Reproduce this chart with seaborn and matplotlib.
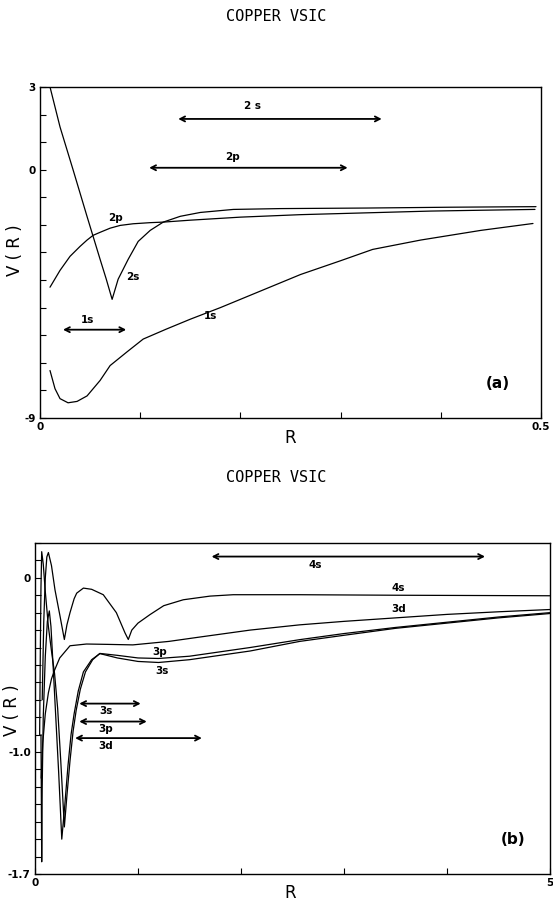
import numpy as np
import matplotlib
matplotlib.use("Agg")
import matplotlib.pyplot as plt
import seaborn as sns

# ---- panel (a): values ----
r_2s = [0.010, 0.020, 0.033, 0.047, 0.060, 0.066, 0.072, 0.078, 0.088, 0.098,
        0.110, 0.123, 0.140, 0.160, 0.193, 0.240, 0.326, 0.410, 0.495]
v_2s = [3.0, 1.55, 0.0, -1.7, -3.25, -3.95, -4.7, -3.97, -3.25, -2.6,
        -2.2, -1.9, -1.69, -1.55, -1.44, -1.41, -1.39, -1.36, -1.34]

r_2p = [0.010, 0.020, 0.030, 0.040, 0.047, 0.053, 0.060, 0.070, 0.080, 0.093,
        0.110, 0.123, 0.150, 0.200, 0.260, 0.330, 0.390, 0.440, 0.494]
v_2p = [-4.26, -3.65, -3.14, -2.78, -2.55, -2.38, -2.27, -2.12, -2.02, -1.96,
        -1.92, -1.9, -1.83, -1.72, -1.63, -1.56, -1.5, -1.47, -1.44]

r_1s = [0.010, 0.015, 0.020, 0.028, 0.037, 0.047, 0.060, 0.070, 0.087, 0.103,
        0.126, 0.150, 0.180, 0.210, 0.260, 0.300, 0.332, 0.380, 0.440, 0.492]
v_1s = [-7.28, -7.94, -8.3, -8.45, -8.4, -8.2, -7.64, -7.1, -6.6, -6.14,
        -5.78, -5.42, -5.0, -4.55, -3.8, -3.3, -2.89, -2.55, -2.2, -1.95]

# orbital extent arrows: (label, r_from, r_to, v)
arrows_a = [("2 s", 0.138, 0.341, 1.84), ("2p", 0.109, 0.307, 0.07), ("1s", 0.023, 0.086, -5.8)]

# ---- panel (b) ----
r_4s = [0.070, 0.085, 0.100, 0.115, 0.130, 0.160, 0.194, 0.243, 0.285, 0.310,
        0.340, 0.380, 0.405, 0.470, 0.550, 0.663, 0.790, 0.874, 0.906, 0.940,
        1.000, 1.117, 1.250, 1.440, 1.700, 1.925, 2.570, 3.500, 5.000]
v_4s = [-0.7, -0.25, 0.0, 0.12, 0.145, 0.07, -0.069, -0.22, -0.354, -0.27,
        -0.2, -0.12, -0.088, -0.059, -0.066, -0.097, -0.2, -0.316, -0.354, -0.3,
        -0.26, -0.211, -0.16, -0.126, -0.105, -0.097, -0.097, -0.1, -0.103]

r_3d = [0.060, 0.075, 0.100, 0.130, 0.160, 0.190, 0.240, 0.340, 0.500, 0.700,
        0.950, 1.300, 1.600, 2.090, 2.570, 3.000, 3.500, 4.000, 4.500, 5.000]
v_3d = [-1.15, -0.95, -0.78, -0.66, -0.58, -0.53, -0.46, -0.39, -0.38, -0.382,
        -0.385, -0.365, -0.34, -0.30, -0.27, -0.25, -0.23, -0.21, -0.195, -0.182]

r_3p = [0.045, 0.052, 0.058, 0.065, 0.080, 0.100, 0.130, 0.160, 0.190, 0.220,
        0.250, 0.285, 0.310, 0.340, 0.370, 0.400, 0.440, 0.490, 0.560, 0.630,
        0.800, 1.000, 1.200, 1.500, 2.090, 2.570, 3.000, 3.500, 4.000, 4.500, 5.000]
v_3p = [-0.9, -0.4, -0.05, 0.15, 0.08, -0.08, -0.28, -0.42, -0.55, -0.75,
        -1.05, -1.43, -1.25, -1.05, -0.88, -0.76, -0.64, -0.54, -0.47, -0.434,
        -0.445, -0.46, -0.463, -0.45, -0.40, -0.355, -0.32, -0.285, -0.255, -0.225, -0.2]

r_3s = [0.058, 0.062, 0.065, 0.070, 0.080, 0.100, 0.120, 0.139, 0.155, 0.178,
        0.200, 0.230, 0.260, 0.290, 0.320, 0.350, 0.380, 0.420, 0.470, 0.550,
        0.630, 0.800, 1.000, 1.200, 1.500, 2.090, 2.570, 3.000, 3.500, 4.000, 4.500, 5.000]
v_3s = [-0.9, -1.3, -1.63, -1.2, -0.8, -0.45, -0.25, -0.19, -0.28, -0.53,
        -0.78, -1.12, -1.5, -1.3, -1.08, -0.9, -0.78, -0.65, -0.54, -0.47,
        -0.435, -0.46, -0.48, -0.486, -0.47, -0.42, -0.365, -0.33, -0.29, -0.26, -0.23, -0.205]

arrows_b = [("4s", 1.715, 4.37, 0.122), ("3s", 0.43, 1.026, -0.722),
            ("3p", 0.43, 1.085, -0.825), ("3d", 0.39, 1.62, -0.92)]

sns.set_style("white")
plt.rcParams["font.family"] = ["DejaVu Sans"]
plt.rcParams["axes.unicode_minus"] = False
plt.rcParams["text.color"] = "black"

fig = plt.figure(figsize=(5.53, 9.0), dpi=100)
ax1 = fig.add_axes([0.0723, 0.5356, 0.906, 0.3678])
ax2 = fig.add_axes([0.0633, 0.0289, 0.931, 0.3678])


def curve(ax, r, v):
    sns.lineplot(x=r, y=v, ax=ax, color="black", lw=0.9, sort=False, estimator=None)


def span(ax, r0, r1, v):
    ax.annotate("", xy=(r0, v), xytext=(r1, v),
                arrowprops=dict(arrowstyle="<->,head_length=0.35,head_width=0.18",
                                color="black", lw=1.3, shrinkA=0, shrinkB=0))


def frame(ax):
    for s in ax.spines.values():
        s.set_color("black")
        s.set_linewidth(1.0)
    ax.tick_params(direction="in", length=4, width=0.8, colors="black",
                   bottom=True, left=True, labelsize=7.5, pad=3)
    for t in ax.get_xticklabels() + ax.get_yticklabels():
        t.set_fontweight("bold")


def lab(ax, x, y, s, size=7.5):
    ax.text(x, y, s, fontsize=size, fontweight="bold", color="black",
            ha="center", va="center")


# panel (a)
for r, v in [(r_2s, v_2s), (r_2p, v_2p), (r_1s, v_1s)]:
    curve(ax1, r, v)
for name, r0, r1, v in arrows_a:
    span(ax1, r0, r1, v)
lab(ax1, 0.212, 2.3, "2 s")
lab(ax1, 0.192, 0.45, "2p")
lab(ax1, 0.047, -5.45, "1s")
lab(ax1, 0.075, -1.75, "2p")
lab(ax1, 0.093, -3.9, "2s")
lab(ax1, 0.170, -5.3, "1s")
lab(ax1, 0.457, -7.76, "(a)", 11)
ax1.set_xlim(0, 0.5)
ax1.set_ylim(-9, 3)
ax1.set_xticks(np.arange(0, 0.51, 0.1))
ax1.set_xticklabels(["0", "", "", "", "", "0.5"])
ax1.set_yticks(np.arange(-9, 4, 1))
ax1.set_yticklabels(["-9"] + [""] * 8 + ["0", "", "", "3"])
ax1.set_xlabel("")
ax1.set_ylabel("")
frame(ax1)

# panel (b)
for r, v in [(r_4s, v_4s), (r_3d, v_3d), (r_3p, v_3p), (r_3s, v_3s)]:
    curve(ax2, r, v)
for name, r0, r1, v in arrows_b:
    span(ax2, r0, r1, v)
lab(ax2, 2.72, 0.075, "4s")
lab(ax2, 0.69, -0.765, "3s")
lab(ax2, 0.69, -0.865, "3p")
lab(ax2, 0.69, -0.965, "3d")
lab(ax2, 3.53, -0.057, "4s")
lab(ax2, 3.53, -0.18, "3d")
lab(ax2, 1.21, -0.427, "3p")
lab(ax2, 1.23, -0.535, "3s")
lab(ax2, 4.64, -1.5, "(b)", 11)
ax2.set_xlim(0, 5)
ax2.set_ylim(-1.7, 0.2)
ax2.set_xticks(np.arange(0, 6, 1))
ax2.set_xticklabels(["0", "", "", "", "", "5"])
yt = np.round(np.arange(-1.7, 0.21, 0.1), 1)
ax2.set_yticks(yt)
ax2.set_yticklabels(["-1.7" if abs(t + 1.7) < 1e-6 else "-1.0" if abs(t + 1.0) < 1e-6
                     else "0" if abs(t) < 1e-6 else "" for t in yt])
ax2.set_xlabel("")
ax2.set_ylabel("")
frame(ax2)

# titles and axis names
mono = ["DejaVu Sans Mono"]
fig.text(0.5, 0.982, "COPPER VSIC", family=mono, fontsize=11, color="black", ha="center", va="center")
fig.text(0.5, 0.469, "COPPER VSIC", family=mono, fontsize=11, color="black", ha="center", va="center")
fig.text(0.524, 0.513, "R", fontsize=12, color="black", ha="center", va="center")
fig.text(0.524, 0.008, "R", fontsize=12, color="black", ha="center", va="center")
fig.text(0.027, 0.722, "V ( R )", fontsize=12, color="black", rotation=90, ha="center", va="center")
fig.text(0.022, 0.211, "V ( R )", fontsize=12, color="black", rotation=90, ha="center", va="center")

fig.savefig("out.png", dpi=100, facecolor="white")
